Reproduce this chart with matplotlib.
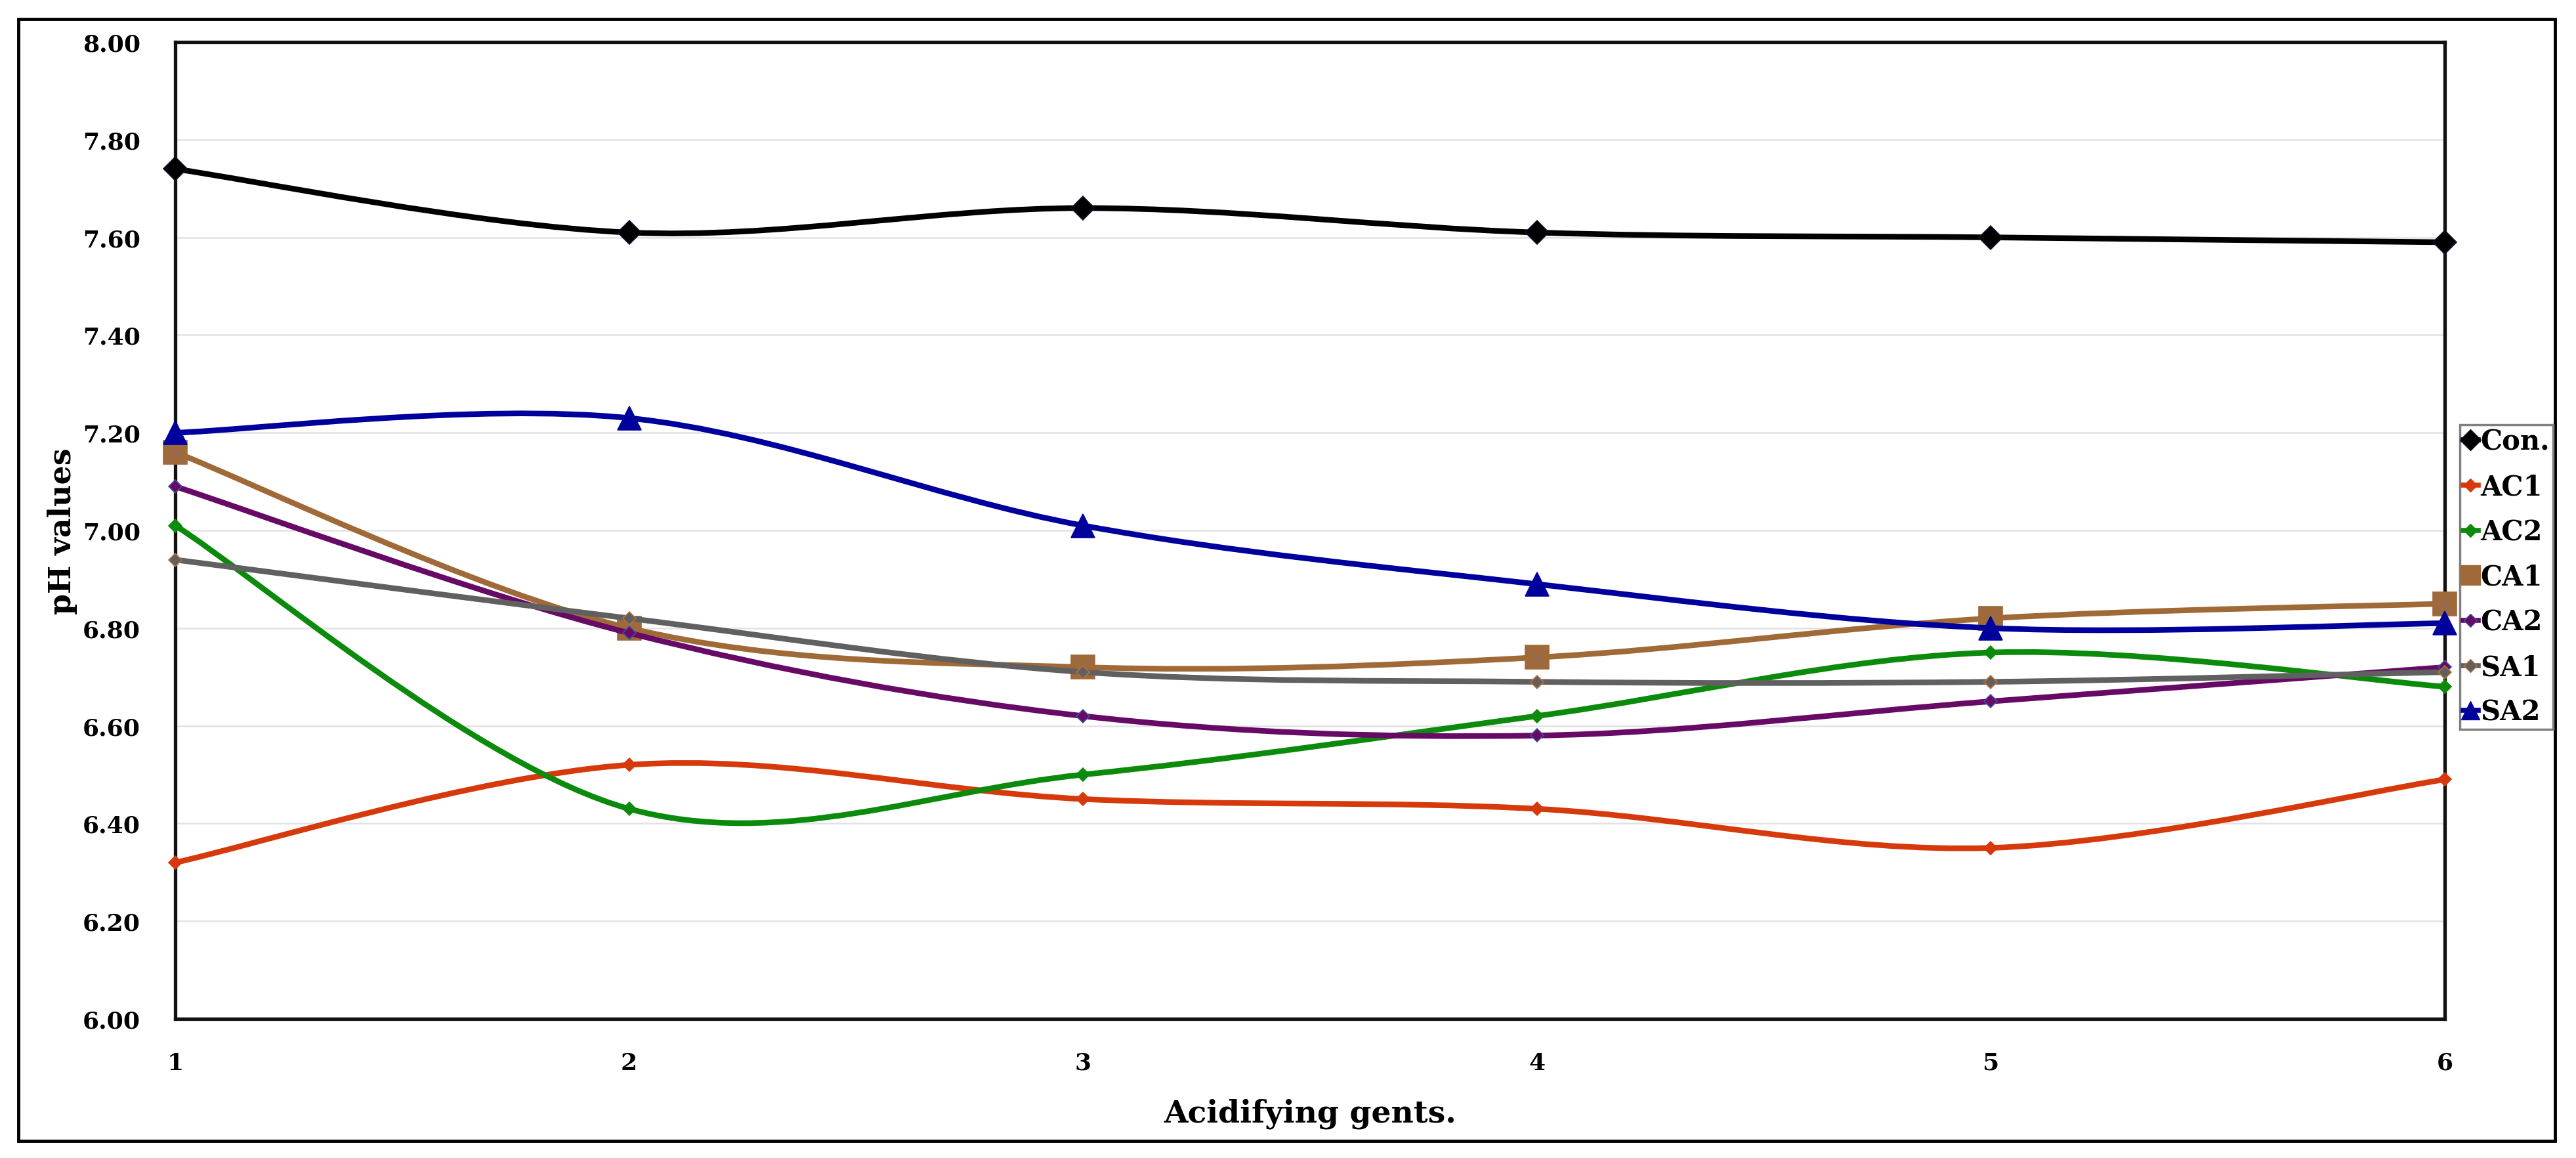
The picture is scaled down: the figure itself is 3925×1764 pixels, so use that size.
import numpy as np
import matplotlib.pyplot as plt
from matplotlib.path import Path
from matplotlib.patches import PathPatch, Rectangle
from matplotlib.lines import Line2D

plt.rcParams['font.family'] = ['DejaVu Serif']
plt.rcParams['font.weight'] = 'bold'

days = [1, 2, 3, 4, 5, 6]
series_names = ['Con.', 'AC1', 'AC2', 'CA1', 'CA2', 'SA1', 'SA2']
con = [7.74, 7.61, 7.66, 7.61, 7.60, 7.59]
ac1 = [6.32, 6.52, 6.45, 6.43, 6.35, 6.49]
ac2 = [7.01, 6.43, 6.50, 6.62, 6.75, 6.68]
ca1 = [7.16, 6.80, 6.72, 6.74, 6.82, 6.85]
ca2 = [7.09, 6.79, 6.62, 6.58, 6.65, 6.72]
sa1 = [6.94, 6.82, 6.71, 6.69, 6.69, 6.71]
sa2 = [7.20, 7.23, 7.01, 6.89, 6.80, 6.81]
y_ticks = [6.0, 6.2, 6.4, 6.6, 6.8, 7.0, 7.2, 7.4, 7.6, 7.8, 8.0]

values = [con, ac1, ac2, ca1, ca2, sa1, sa2]
colors = ['#000000', '#D63A0C', '#0C8A0C', '#A06A38', '#660A66', '#606060', '#00009C']
markers = ['D', 'D', 'D', 's', 'D', 'D', '^']
msizes = [18, 10, 10, 26, 10, 10, 26]
leg_sizes = [16, 10, 10, 21, 10, 10, 20]
medges = ['#101030', '#D63A0C', '#0C8A0C', '#A06A38', '#4050A0', '#C07030', '#00009C']


def smooth_path(x, y):
    # excel style smoothed line: cubic bezier through every point
    pts = np.column_stack([x, y]).astype(float)
    n = len(pts)
    verts = [pts[0]]
    codes = [Path.MOVETO]
    for i in range(n - 1):
        p_prev = pts[max(i - 1, 0)]
        p_next = pts[min(i + 2, n - 1)]
        c1 = pts[i] + (pts[i + 1] - p_prev) / 6.0
        c2 = pts[i + 1] - (p_next - pts[i]) / 6.0
        verts += [c1, c2, pts[i + 1]]
        codes += [Path.CURVE4] * 3
    return Path(verts, codes)


fig = plt.figure(figsize=(39.25, 17.65), dpi=100)
ax = fig.add_axes([267 / 3925, 1 - 1553 / 1765, (3725 - 267) / 3925, (1553 - 65) / 1765])

handles = []
for i, (name, vals) in enumerate(zip(series_names, values)):
    z = 3 + i * 0.1
    patch = PathPatch(smooth_path(days, vals), facecolor='none', edgecolor=colors[i],
                      lw=6.2, zorder=z, capstyle='round', joinstyle='round')
    ax.add_patch(patch)
    ax.plot(days, vals, linestyle='none', marker=markers[i], ms=msizes[i],
            color=colors[i], mec=medges[i], mew=1.2, zorder=z + 0.05, clip_on=False)
    if name == 'CA1':
        ax.plot(days, vals, linestyle='none', marker='x', ms=msizes[i] * 0.8,
                color='#8a6878', mew=1.0, zorder=z + 0.06, clip_on=False)
    handles.append(Line2D([], [], color=colors[i], lw=5.5, marker=markers[i],
                          ms=leg_sizes[i], mec=medges[i], mew=1.0))

ax.set_xlim(1, 6)
ax.set_ylim(6, 8)
ax.set_xticks(days)
ax.set_xticklabels([str(d) for d in days])
ax.set_yticks(y_ticks)
ax.set_yticklabels(['%.2f' % v for v in y_ticks])
ax.tick_params(axis='both', length=0)
ax.tick_params(axis='y', pad=38, labelsize=26)
ax.tick_params(axis='x', pad=36, labelsize=26)
ax.yaxis.grid(True, color='#E2E2E2', lw=1.8, zorder=0)
ax.set_axisbelow(True)
for side in ('top', 'right', 'bottom', 'left'):
    ax.spines[side].set_linewidth(3.8)
    ax.spines[side].set_color('#111111')

ax.set_xlabel('Acidifying gents.', fontsize=34, fontweight='bold')
ax.xaxis.set_label_coords(0.5, -0.081)
ax.xaxis.label.set_va('top')
ax.set_ylabel('pH values', fontsize=33, fontweight='bold')
ax.yaxis.set_label_coords(-0.043, 0.5)

leg = fig.legend(handles, series_names, loc='upper left',
                 bbox_to_anchor=(3748 / 3925, 1 - 648 / 1765), bbox_transform=fig.transFigure,
                 borderaxespad=0, borderpad=0.12, handlelength=0.55, handletextpad=0.08,
                 labelspacing=0.64, fancybox=False, framealpha=1, edgecolor='#808080',
                 prop={'size': 30, 'weight': 'bold'})
leg.get_frame().set_linewidth(2.5)

# outer border round the whole chart
fig.add_artist(Rectangle((28 / 3925, 1 - 1739 / 1765), (3893 - 28) / 3925, (1739 - 30) / 1765,
                         transform=fig.transFigure, fill=False, lw=3.5, ec='black'))

fig.savefig('out.png', dpi=100, facecolor='white')
